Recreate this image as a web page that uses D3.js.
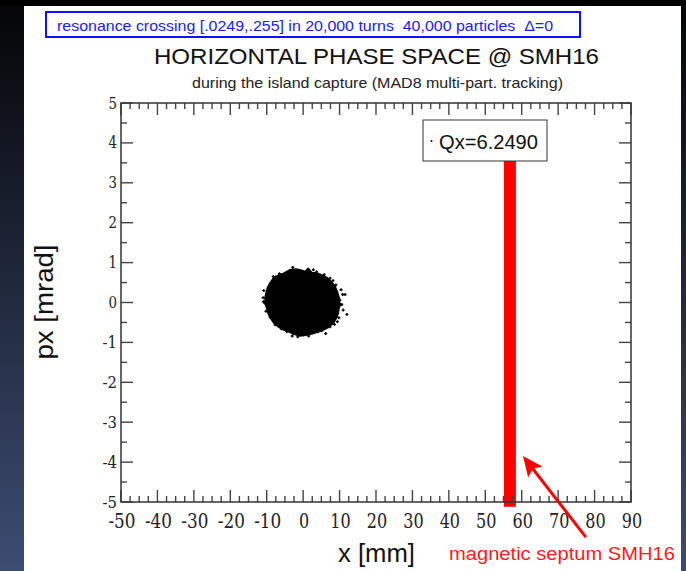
<!DOCTYPE html>
<html><head><meta charset="utf-8">
<script src="https://cdn.jsdelivr.net/npm/d3@7"></script>
<style>html,body{margin:0;padding:0;background:#000;}svg{display:block;}
.sans{font-family:"Liberation Sans",Arial,Helvetica,sans-serif;}
</style>
</head><body>
<script>
// ---- data ----
const xTickValues = [-50,-40,-30,-20,-10,0,10,20,30,40,50,60,70,80,90];
const yTickValues = [-5,-4,-3,-2,-1,0,1,2,3,4,5];
// outline of the dense particle core [x mm, px mrad]
const coreOutline = [
  [-0.9,0.82],[0.6,0.78],[1.4,0.86],[2.35,0.75],[3.8,0.74],[5.1,0.69],[6.6,0.62],[7.8,0.52],[8.8,0.40],[9.4,0.27],[9.9,0.12],
  [9.9,0.02],[10.3,-0.06],[9.9,-0.12],[9.65,-0.27],[9.1,-0.40],[8.3,-0.52],[7.0,-0.62],[5.5,-0.69],[4.0,-0.74],[2.35,-0.79],[0.7,-0.82],
  [-0.9,-0.84],[-2.6,-0.79],[-4.1,-0.73],[-5.6,-0.68],[-6.8,-0.61],[-8.0,-0.52],[-8.9,-0.40],[-9.6,-0.28],[-10.0,-0.15],[-10.4,-0.02],
  [-10.5,0.11],[-10.2,0.24],[-9.85,0.36],[-9.1,0.49],[-8.2,0.61],[-6.9,0.68],[-5.45,0.73],[-4.2,0.79],[-3.15,0.83],[-2.0,0.84]
];
// sparse particles around the core edge
const edgeParticles = [
  [10.85,0.20],[11.5,0.20],[11.0,-0.19],[9.4,-0.48],[7.37,-0.61],[5.1,-0.71],[4.16,-0.73],[0.05,-0.81],[-2.7,-0.77],[-4.5,-0.73],
  [-7.7,-0.56],[-9.1,-0.36],[-10.5,-0.02],[-10.9,0.02],[-9.85,0.23],[-9.1,0.44],[-8.2,0.65],[-3.6,0.81],[-2.85,0.88],[3.7,0.77],
  [7.4,0.61],[9.0,0.44],[10.1,0.06],[10.6,-0.05],[8.6,-0.55],[1.5,-0.84],[-1.5,-0.86],[-6.0,-0.66],[-11.0,0.12],[-6.5,0.72],[5.8,0.70],[10.4,0.32],
  [12.0,-0.30],[9.8,-0.38],[6.2,-0.78],[-3.0,-0.84],[-10.2,-0.22],[-10.8,0.30],[-7.5,0.64],[2.8,0.82],[8.2,0.55]
];
const septum = {x0:55.1, x1:58.4, y0:-5.12, y1:4.2};
const legendLabel = "Qx=6.2490";
const arrow = {tail:[77.6,-5.88], tip:[60.35,-3.85]};

const W=686,H=571;
const SERIF="'DejaVu Serif', serif";
const svg=d3.select("body").append("svg").attr("width",W).attr("height",H);
const defs=svg.append("defs");
const g=defs.append("linearGradient").attr("id","bg").attr("x1",0).attr("y1",0).attr("x2",0).attr("y2",1);
g.append("stop").attr("offset","0%").attr("stop-color","#050507");
g.append("stop").attr("offset","100%").attr("stop-color","#3c4c72");
svg.append("rect").attr("width",W).attr("height",H).attr("fill","url(#bg)");
svg.append("rect").attr("x",0).attr("y",0).attr("width",W).attr("height",6).attr("fill","#000");
svg.append("rect").attr("x",24).attr("y",6).attr("width",657).attr("height",H-6).attr("fill","#fff");

// header box
svg.append("rect").attr("x",46).attr("y",12).attr("width",534).attr("height",25).attr("fill","none").attr("stroke","#1010ff").attr("stroke-width",2);
svg.append("text").attr("class","sans").attr("x",57).attr("y",31).attr("font-size",14.5).attr("fill","#1a1aff")
  .attr("textLength",496).attr("lengthAdjust","spacingAndGlyphs").attr("xml:space","preserve")
  .text("resonance crossing [.0249,.255] in 20,000 turns  40,000 particles  \u0394=0");
svg.append("text").attr("class","sans").attr("x",376.5).attr("y",64).attr("text-anchor","middle").attr("font-size",22)
  .attr("textLength",445).attr("lengthAdjust","spacingAndGlyphs").attr("fill","#111").text("HORIZONTAL PHASE SPACE @ SMH16");
svg.append("text").attr("class","sans").attr("x",377.5).attr("y",88).attr("text-anchor","middle").attr("font-size",14.5)
  .attr("textLength",371).attr("lengthAdjust","spacingAndGlyphs").attr("fill","#222").text("during the island capture (MAD8 multi-part. tracking)");

const L=121,R=631,T=103,B=502;
const x=d3.scaleLinear().domain([-50,90]).range([L,R]);
const y=d3.scaleLinear().domain([-5,5]).range([B,T]);

const plot=svg.append("g");
// septum bar
plot.append("rect").attr("x",x(septum.x0)).attr("width",x(septum.x1)-x(septum.x0))
  .attr("y",y(septum.y1)).attr("height",y(septum.y0)-y(septum.y1)).attr("fill","#ff0000");

// particle core
plot.append("path").datum(coreOutline)
  .attr("d",d3.line().x(d=>x(d[0])).y(d=>y(d[1])).curve(d3.curveLinearClosed))
  .attr("fill","#000").attr("stroke","#000").attr("stroke-width",1.5).attr("stroke-linejoin","round");
plot.append("g").selectAll("path").data(edgeParticles).join("path")
  .attr("d",d=>`M${x(d[0])-1.5},${y(d[1])}h3M${x(d[0])},${y(d[1])-1.5}v3`)
  .attr("stroke","#000").attr("stroke-width",1.3);

// frame + ticks
const tickCol="#444";
const xMinor=d3.range(-50,90.01,2.5), yMinor=d3.range(-5,5.01,0.5);
const tk=svg.append("g").attr("stroke",tickCol).attr("stroke-width",1.4);
xMinor.forEach(v=>{
  const len = (Math.abs(v%10)<1e-6)?12:6;
  tk.append("line").attr("x1",x(v)).attr("x2",x(v)).attr("y1",B).attr("y2",B-len);
  tk.append("line").attr("x1",x(v)).attr("x2",x(v)).attr("y1",T).attr("y2",T+len);
});
yMinor.forEach(v=>{
  const len = (Math.abs(v%1)<1e-6)?12:6;
  tk.append("line").attr("y1",y(v)).attr("y2",y(v)).attr("x1",L).attr("x2",L+len);
  tk.append("line").attr("y1",y(v)).attr("y2",y(v)).attr("x1",R).attr("x2",R-len);
});
svg.append("rect").attr("x",L).attr("y",T).attr("width",R-L).attr("height",B-T).attr("fill","none").attr("stroke","#333").attr("stroke-width",1.5);

// tick labels (condensed serif to match Times-like proportions)
svg.append("g").selectAll("text").data(xTickValues).join("text").style("font-family",SERIF)
  .attr("x",d=>x(d)+1).attr("y",528).attr("text-anchor","middle").attr("font-size",19.5).attr("fill","#222")
  .attr("lengthAdjust","spacingAndGlyphs").attr("textLength",d=>String(d).length*10.2 - (d<0?3.5:0))
  .text(d=>d);
svg.append("g").selectAll("text").data(yTickValues).join("text").style("font-family",SERIF)
  .attr("x",117).attr("y",d=>y(d)+5.5).attr("text-anchor","end").attr("font-size",17).attr("fill","#222")
  .attr("lengthAdjust","spacingAndGlyphs").attr("textLength",d=>String(d).length*8.5 - (d<0?2.5:0))
  .text(d=>d);

// axis titles
svg.append("text").attr("class","sans").attr("x",338).attr("y",562).attr("font-size",25).attr("fill","#111")
  .attr("textLength",77).attr("lengthAdjust","spacingAndGlyphs").text("x [mm]");
svg.append("text").attr("class","sans").attr("transform","translate(53,302) rotate(-90)").attr("text-anchor","middle")
  .attr("font-size",26).attr("fill","#111").attr("textLength",115).attr("lengthAdjust","spacingAndGlyphs").text("px [mrad]");

// legend
svg.append("rect").attr("x",423).attr("y",120).attr("width",124).attr("height",41).attr("fill","#fff").attr("stroke","#333").attr("stroke-width",1);
svg.append("circle").attr("cx",431.5).attr("cy",141).attr("r",1).attr("fill","#000");
svg.append("text").attr("class","sans").attr("x",439).attr("y",149).attr("font-size",20).attr("fill","#111")
  .attr("textLength",99).attr("lengthAdjust","spacingAndGlyphs").text(legendLabel);

// annotation arrow
const ax0=x(arrow.tail[0]), ay0=y(arrow.tail[1]), ax1=x(arrow.tip[0]), ay1=y(arrow.tip[1]);
const ang=Math.atan2(ay1-ay0, ax1-ax0);
const hl=20, hw=9;
const bx=ax1-hl*Math.cos(ang), by=ay1-hl*Math.sin(ang);
svg.append("line").attr("x1",ax0).attr("y1",ay0).attr("x2",bx+4*Math.cos(ang)).attr("y2",by+4*Math.sin(ang)).attr("stroke","#ff0000").attr("stroke-width",3);
svg.append("path").attr("d",`M${ax1},${ay1}L${bx-hw*Math.sin(ang)},${by+hw*Math.cos(ang)}L${bx+4*Math.cos(ang)},${by+4*Math.sin(ang)}L${bx+hw*Math.sin(ang)},${by-hw*Math.cos(ang)}Z`).attr("fill","#ff0000");
svg.append("text").attr("class","sans").attr("x",449).attr("y",560).attr("font-size",18).attr("fill","#ff1a1a")
  .attr("textLength",226).attr("lengthAdjust","spacingAndGlyphs").text("magnetic septum SMH16");
</script>
</body></html>
